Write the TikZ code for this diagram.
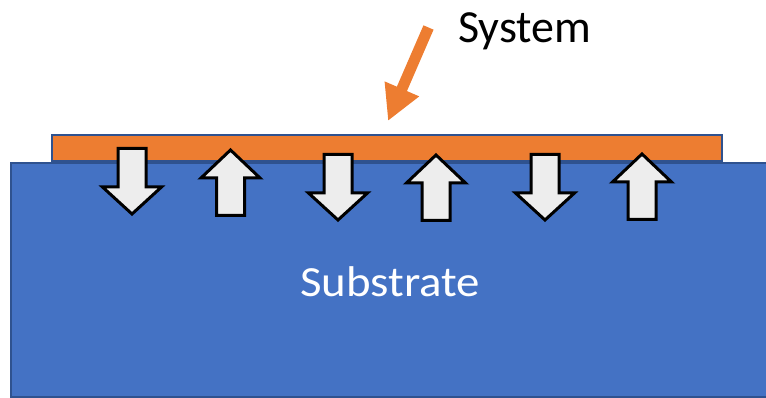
\documentclass[tikz,border=0pt]{standalone}
\usepackage{fontspec}
\setmainfont{Carlito}
\usetikzlibrary{arrows.meta}
\definecolor{subblue}{HTML}{4472C4}
\definecolor{edgeblue}{HTML}{2F528F}
\definecolor{filmorange}{HTML}{ED7D31}
\definecolor{arrowgray}{HTML}{EDEDED}
\tikzset{
  blockarrow/.style={draw=black, fill=arrowgray, line width=3pt, line join=miter},
  layer/.style={draw=edgeblue, line width=2pt},
  pics/downarr/.style={code={
    \path[blockarrow] (-14,1.5) -- (14,1.5) -- (14,40) -- (29.5,40) -- (0,67)
      -- (-29.5,40) -- (-14,40) -- cycle;}},
  pics/uparr/.style={code={
    \path[blockarrow] (0,2) -- (29.5,30) -- (14,30) -- (14,67.5) -- (-14,67.5)
      -- (-14,30) -- (-29.5,30) -- cycle;}},
}
\begin{document}
\begin{tikzpicture}[x=1pt, y=-1pt]
  \useasboundingbox (0,0) rectangle (766,398);
  \clip (0,0) rectangle (766,398);
  % substrate block
  \path[layer, fill=subblue] (10.5,163) rectangle (790,396.5);
  \node[text=white, font=\fontsize{43}{45}\selectfont, inner sep=0pt, anchor=base]
    (sub) at (390,296) {\scalebox{1.09}[1]{Substrate}};
  % thin film on top
  \path[layer, fill=filmorange] (52,135.5) rectangle (722,161.5);
  % interface arrows
  \pic at (132,147) {downarr};
  \pic at (230.5,148) {uparr};
  \pic at (338,153) {downarr};
  \pic at (436,153) {uparr};
  \pic at (545,153) {downarr};
  \pic at (642,152) {uparr};
  % label and pointer
  \node[font=\fontsize{46}{48}\selectfont, inner sep=0pt, anchor=base west]
    (sys) at (458,43) {System};
  \coordinate (ptrstart) at (428.5,27.5);
  \coordinate (ptrtip) at (388,121);
  \draw[filmorange, line width=11pt,
        -{Triangle[width=35pt, length=35pt]}] (ptrstart) -- (ptrtip);
\end{tikzpicture}
\end{document}
